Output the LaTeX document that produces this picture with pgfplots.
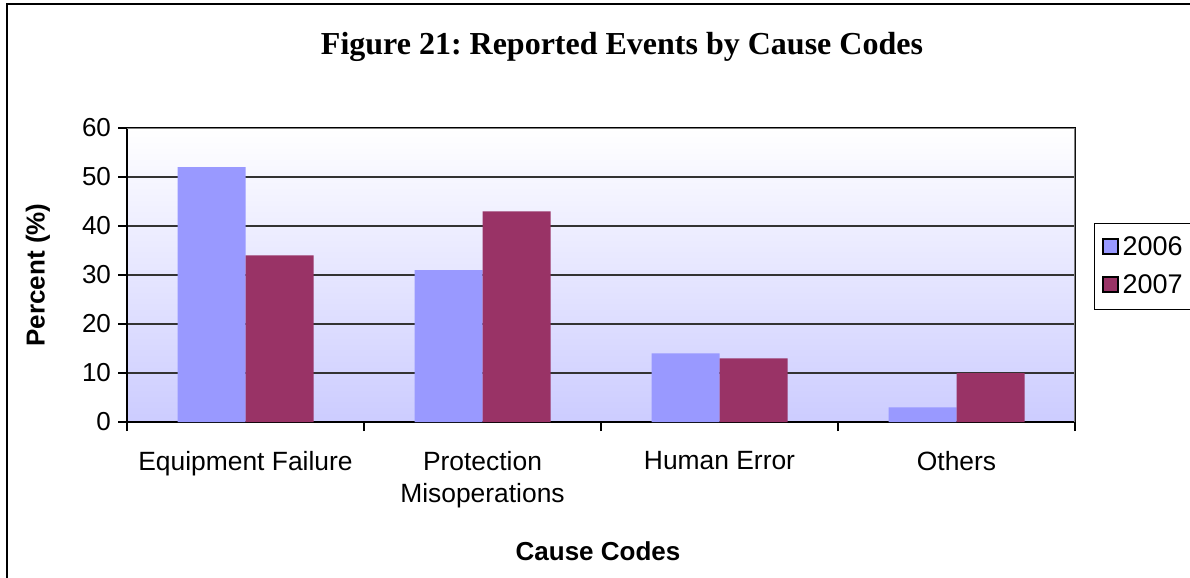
\documentclass[border=0pt]{standalone}
\usepackage{fontspec}
\setmainfont{Liberation Sans}
\newfontfamily\timesfont{Liberation Serif}
\usepackage{pgfplots}
\pgfplotsset{compat=1.18}
\definecolor{c06}{RGB}{153,153,255}
\definecolor{c07}{RGB}{153,51,102}
\definecolor{bgbot}{RGB}{204,204,255}
\frenchspacing
\begin{document}
\begin{tikzpicture}[x=1bp,y=1bp]
\useasboundingbox (0,0) rectangle (595,288.5);
\begin{scope}
\clip (0,0) rectangle (595,288.5);
\draw[line width=1bp] (3.5,-10) -- (3.5,286.5) -- (605,286.5);
\end{scope}
\begin{axis}[
 at={(63.5bp,77.5bp)}, anchor=south west,
 width=474bp, height=147bp, scale only axis,
 ymin=0, ymax=60, ytick={0,10,...,60},
 xmin=-0.5, xmax=3.5,
 xtick={-0.5,0.5,1.5,2.5,3.5},
 x tick label as interval,
 xticklabels={Equipment Failure, {Protection\\Misoperations}, Human Error, Others},
 xticklabel style={align=center, font=\fontsize{13.2bp}{16bp}\selectfont, yshift=-6.5bp},
 yticklabel style={font=\fontsize{13bp}{15bp}\selectfont},
 /pgf/number format/assume math mode=true,
 ybar=0pt, bar width=34bp,
 axis background/.style={top color=white, bottom color=bgbot},
 ymajorgrids, major grid style={black!80, line width=0.8bp},
 axis line style={black, line width=0.8bp},
 tick style={black, line width=0.8bp},
 tick align=outside, major tick length=4.5bp,
 xtick pos=lower, ytick pos=left,
 legend style={at={(rel axis cs:1.02,0.677)}, anchor=north west, draw=black, line width=0.6bp, fill=white,
   font=\fontsize{13.5bp}{15bp}\selectfont, inner xsep=3.5bp, inner ysep=4.5bp, row sep=4bp,
   /tikz/every even column/.append style={column sep=1bp}},
 legend image code/.code={\draw[#1,draw=black,line width=1bp] (0bp,-3.5bp) rectangle (7.5bp,4bp);},
 legend cell align=left,
]
\addplot[fill=c06, draw=none] coordinates {(0,52) (1,31) (2,14) (3,3)};
\addplot[fill=c07, draw=none] coordinates {(0,34) (1,43) (2,13) (3,10)};
\legend{2006,2007}
\draw[gray, line width=1bp] (rel axis cs:0,1) -- (rel axis cs:1,1) -- (rel axis cs:1,0);
\end{axis}
\node[font=\timesfont\bfseries\fontsize{16bp}{19bp}\selectfont] at (311,265) {Figure 21: Reported Events by Cause Codes};
\node[font=\bfseries\fontsize{13bp}{15bp}\selectfont, rotate=90] at (19,151) {Percent (\%)};
\node[font=\bfseries\fontsize{13bp}{15bp}\selectfont] at (299,13) {Cause Codes};
\end{tikzpicture}
\end{document}
